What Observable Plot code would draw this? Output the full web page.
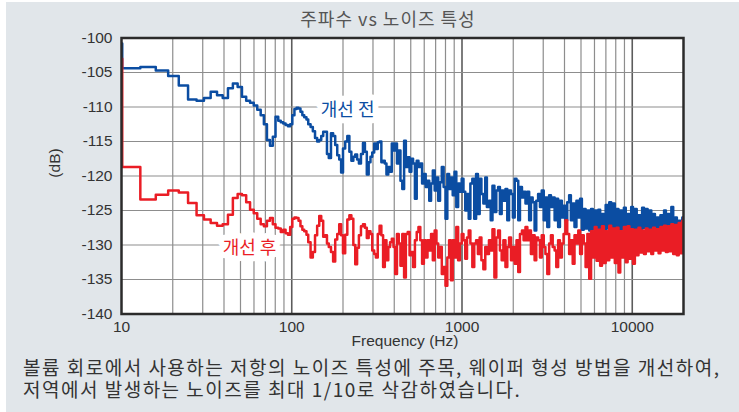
<!DOCTYPE html>
<html>
<head>
<meta charset="utf-8">
<script src="https://cdn.jsdelivr.net/npm/d3@7"></script>
<script src="https://cdn.jsdelivr.net/npm/@observablehq/plot@0.6"></script>
<style>
  html, body { margin: 0; padding: 0; background: #ffffff; }
  body { width: 739px; height: 412px; overflow: hidden; position: relative; font-family: "Liberation Sans", Arial, sans-serif; }
  #panel { position: absolute; left: 6px; top: 2px; width: 733px; height: 410px; background: #e1e6ea; }
  #chart { position: absolute; left: 0; top: 0; }
  .ko { font-family: "Noto Sans CJK KR", "Noto Sans", sans-serif; }
  #title { position: absolute; left: 238px; width: 300px; top: 6px; text-align: center; font-size: 18px; line-height: 24px; letter-spacing: 1px; color: #555; }
  #xlabel { position: absolute; left: 305px; width: 200px; top: 331px; text-align: center; font-size: 15.5px; line-height: 20px; color: #333; }
  #ylabel { position: absolute; left: 25px; top: 153px; width: 60px; text-align: center; font-size: 15.5px; line-height: 20px; color: #333; transform: rotate(-90deg); }
  .cap { position: absolute; left: 23px; font-size: 19px; line-height: 22px; letter-spacing: 1.5px; color: #333; white-space: nowrap; }
  #cap1 { top: 356px; }
  #cap2 { top: 378px; }
</style>
</head>
<body>
<div id="panel"></div>
<div id="title" class="ko">주파수 vs 노이즈 특성</div>
<div id="chart"></div>
<div id="xlabel">Frequency (Hz)</div>
<div id="ylabel">(dB)</div>
<div id="cap1" class="ko cap">볼륨 회로에서 사용하는 저항의 노이즈 특성에 주목, 웨이퍼 형성 방법을 개선하여,</div>
<div id="cap2" class="ko cap">저역에서 발생하는 노이즈를 최대 1/10로 삭감하였습니다.</div>
<script>
// ---- data ----
const freq = [
  10, 10.1, 12.9, 15.9, 18.8, 21.7, 24.6, 27.6, 30.5, 33.4, 36.4, 39.3, 42.2, 45.1, 48.1, 51.0, 54.0, 56.9, 59.8, 62.7,
  65.7, 68.6, 71.5, 74.5, 77.4, 80.3, 83.3, 86.2, 89.1, 92.0, 95.0, 97.9, 100.8, 103.7, 106.7, 109.6, 112.5, 115.4, 118.4,
  122, 125, 129, 133, 137, 141, 145, 149, 153, 157, 161, 165, 170, 175, 180, 185, 190, 195, 200, 206,
  212, 218, 224, 230, 236, 242, 248, 255, 262, 269, 276, 283, 290, 297,
  305, 312, 320, 328, 336, 344, 352, 360, 369, 378,
  387, 396, 405, 415, 425, 435, 446, 457, 468, 480,
  492, 504, 516, 529, 542, 555, 569, 583, 597, 612,
  627, 642, 658, 674, 691, 708, 725, 743, 761, 780,
  800, 820, 840, 861, 882, 904, 926, 949, 972, 996,
  1020, 1045, 1070, 1095, 1120, 1150, 1180, 1210, 1240, 1270,
  1300, 1335, 1370, 1400, 1440, 1475, 1510, 1550, 1590, 1630,
  1670, 1710, 1750, 1800, 1845, 1890, 1940, 1990, 2040, 2090,
  2140, 2190, 2250, 2300, 2360, 2420, 2480, 2540, 2600, 2670,
  2730, 2800, 2870, 2940, 3020, 3090, 3170, 3250, 3330, 3410,
  3500, 3580, 3670, 3760, 3860, 3950, 4050, 4150, 4260, 4360,
  4470, 4580, 4700, 4820, 4940, 5060, 5190, 5320, 5450, 5590,
  5730, 5870, 6020, 6170, 6320, 6480, 6640, 6810, 6980, 7150,
  7330, 7520, 7700, 7900, 8090, 8300, 8500, 8710, 8930, 9160,
  9390, 9620, 9860, 10100, 10360, 10620, 10880, 11150, 11430, 11720,
  12010, 12310, 12620, 12940, 13260, 13590, 13930, 14280, 14640, 15000,
  15380, 15760, 16160, 16560, 16970, 17400, 17830, 18280, 18740, 19200,
  19680, 20000
];

// 개선 전 (before)
const dbBefore = [
  -100.8, -104.4, -104.2, -104.7, -105.5, -106.9, -108.9, -109.1, -108.7, -107.8, -108.3, -108.7, -107.3, -106.6, -107.1, -108.5, -109.1, -109.4, -109.8, -110.4,
  -111.2, -112.5, -114.8, -115.6, -114.3, -111.4, -112.0, -112.2, -112.4, -112.6, -112.8, -112.5, -111.2, -110.3, -110.1, -110.2, -110.7, -111.2, -111.5,
  -111.8, -112.5, -112.9, -113.5, -114.5, -115.0, -114.8, -114.2, -113.6, -113.6, -116.8, -117.4, -113.8, -114.2, -115.5, -117.0, -117.6, -119.5, -116.0, -115.0,
  -114.2, -116.5, -117.8, -117.2, -116.9, -117.6, -118.2, -116.8, -115.2, -116.5, -119.8, -118.0, -117.2, -116.6,
  -115.3, -116.1, -115.1, -115.0, -118.0, -117.8, -118.2, -119.8, -118.7, -119.4,
  -115.3, -116.3, -115.3, -118.2, -116.3, -120.7, -121.9, -114.9, -118.7, -117.3,
  -119.4, -117.5, -118.2, -123.3, -117.8, -118.7, -118.2, -121.1, -119.7, -121.6,
  -120.7, -123.6, -121.1, -119.2, -122.1, -120.2, -123.6, -120.9, -118.7, -121.6,
  -126.2, -119.7, -121.9, -120.2, -122.8, -119.4, -124.5, -121.1, -122.3, -120.4,
  -122.3, -125.0, -122.6, -126.2, -121.1, -120.4, -126.2, -119.7, -125.5, -120.4,
  -122.6, -124.0, -120.2, -124.5, -123.6, -126.4, -121.4, -125.2, -122.1, -121.6,
  -125.5, -122.1, -123.6, -121.9, -126.4, -122.1, -122.6, -126.0, -120.4, -120.7,
  -126.4, -121.6, -123.1, -122.3, -124.0, -122.3, -126.4, -123.1, -123.8, -127.9,
  -123.6, -122.6, -124.5, -122.1, -126.4, -123.1, -127.4, -122.8, -124.5, -123.1,
  -126.4, -123.3, -127.4, -123.6, -126.0, -124.3, -126.4, -123.8, -122.8, -126.4,
  -124.0, -127.4, -123.6, -126.0, -123.3, -127.8, -124.8, -127.6, -125.0, -127.9,
  -124.8, -127.7, -125.0, -127.8, -124.9, -127.9, -125.5, -127.8, -124.2, -127.6,
  -123.8, -127.9, -124.0, -127.8, -124.8, -127.9, -125.0, -127.7, -124.6, -127.8,
  -125.5, -127.6, -124.5, -127.8, -124.8, -127.6, -125.7, -127.9, -124.6, -127.5,
  -124.8, -127.7, -125.0, -127.6, -125.5, -127.8, -126.0, -127.5, -125.7, -127.6,
  -125.0, -127.4, -125.5, -127.5, -124.5, -127.3, -126.0, -127.4, -126.5, -127.2,
  -126.0, -126.3
];

// 개선 후 (after)
const dbAfter = [
  -103.0, -118.7, -123.4, -122.7, -122.1, -122.4, -123.9, -125.7, -126.3, -126.8, -127.2, -127.0, -125.6, -123.2, -122.6, -122.8, -123.8, -124.9, -125.4, -126.2,
  -127.0, -127.3, -126.5, -126.1, -127.0, -127.5, -127.6, -128.1, -127.8, -128.3, -128.5, -127.4, -126.2, -126.0, -126.1, -126.5, -127.3, -127.8, -128.0,
  -128.5, -129.6, -131.8, -131.0, -128.6, -127.2, -125.8, -126.5, -128.8, -128.6, -129.8, -130.3, -131.0, -132.4, -129.2, -128.4, -127.0, -128.6, -131.2, -128.5,
  -126.3, -125.7, -126.2, -130.0, -132.8, -130.4, -128.6, -127.3, -127.0, -127.5, -129.0, -128.0, -128.4, -130.8,
  -131.3, -131.8, -128.4, -127.2, -128.6, -133.2, -129.3, -132.2, -130.3, -129.6,
  -129.1, -130.3, -134.2, -128.4, -129.8, -133.0, -128.4, -134.7, -128.4, -128.1,
  -131.5, -131.0, -133.2, -129.3, -128.1, -127.4, -129.3, -132.7, -129.3, -131.8,
  -129.3, -130.8, -128.4, -132.2, -127.9, -129.8, -131.8, -130.3, -134.2, -133.2,
  -135.9, -131.8, -129.3, -135.1, -129.3, -131.8, -127.4, -132.2, -129.8, -128.4,
  -129.3, -132.0, -128.9, -127.9, -129.8, -133.2, -129.8, -129.3, -131.3, -128.9,
  -132.2, -133.5, -130.3, -131.3, -129.3, -130.8, -127.7, -134.7, -128.9, -127.9,
  -130.8, -132.2, -129.3, -133.2, -130.3, -128.9, -132.2, -130.3, -132.7, -129.3,
  -133.9, -128.4, -127.9, -129.3, -127.4, -129.3, -127.9, -131.3, -128.6, -132.2,
  -128.9, -129.3, -131.8, -128.6, -130.3, -131.3, -134.2, -129.8, -128.6, -130.3,
  -130.8, -133.2, -129.3, -131.8, -129.8, -128.4, -126.4, -128.4, -131.3, -129.3,
  -132.7, -128.6, -129.8, -127.9, -131.3, -128.6, -129.8, -133.2, -128.4, -134.9,
  -128.0, -131.8, -127.4, -132.3, -127.8, -133.0, -127.3, -132.6, -128.0, -132.2,
  -127.2, -131.8, -127.6, -132.6, -127.5, -134.0, -128.0, -131.8, -127.4, -132.5,
  -127.3, -132.0, -127.7, -132.7, -127.8, -131.5, -127.5, -131.1, -127.9, -131.3,
  -127.6, -130.9, -127.8, -131.3, -127.5, -130.8, -127.7, -131.2, -127.4, -130.8,
  -127.2, -131.0, -127.3, -130.9, -127.0, -131.3, -127.1, -131.5, -126.8, -131.2,
  -126.5, -126.0
];

const xTicks = [10, 100, 1000, 10000];
const xMinorGrid = [20, 30, 40, 50, 60, 70, 80, 90, 200, 300, 400, 500, 600, 700, 800, 900, 2000, 3000, 4000, 5000, 6000, 7000, 8000, 9000];
const xMajorGrid = [100, 1000, 10000];
const yTicks = [-140, -135, -130, -125, -120, -115, -110, -105, -100];

const seriesNames = ["개선 전", "개선 후"];
const labelFreq = [213, 56.5];
const labelDb = [-110.5, -130.5];
const seriesColors = ["#0b4da2", "#ea1d25"];

// ---- build ----
const rows = freq.map((f, i) => ({ f, before: dbBefore[i], after: dbAfter[i] }));
const labels = seriesNames.map((name, i) => ({ name, f: labelFreq[i], db: labelDb[i], color: seriesColors[i] }));

const chart = Plot.plot({
  width: 739,
  height: 360,
  marginLeft: 121,
  marginRight: 56,
  marginTop: 37.5,
  marginBottom: 46.5,
  style: { background: "transparent", fontFamily: "'Liberation Sans', Arial, sans-serif", fontSize: "15.5px", color: "#333" },
  x: { type: "log", domain: [10, 20000], ticks: xTicks, tickFormat: d => String(d), label: null, tickSize: 0, tickPadding: 7 },
  y: { domain: [-140, -100], ticks: yTicks, tickFormat: d => String(d), label: null, tickSize: 0, tickPadding: 9 },
  marks: [
    Plot.frame({ fill: "white" }),
    Plot.ruleX(xMinorGrid, { stroke: "#8d8d8d", strokeWidth: 1.2 }),
    Plot.ruleX(xMajorGrid, { stroke: "#5c5c5c", strokeWidth: 1.6 }),
    Plot.ruleY(yTicks, { stroke: "#8d8d8d", strokeWidth: 1.2 }),
    Plot.line(rows, { x: "f", y: "before", curve: "step-after", stroke: seriesColors[0], strokeWidth: 2.5, clip: true }),
    Plot.line(rows, { x: "f", y: "after", curve: "step-after", stroke: seriesColors[1], strokeWidth: 2.5, clip: true }),
    Plot.text(labels, {
      x: "f", y: "db", text: "name", fill: "color",
      stroke: "white", strokeWidth: 12, strokeLinejoin: "round", paintOrder: "stroke",
      fontSize: 18, fontFamily: "'Noto Sans CJK KR', sans-serif", textAnchor: "middle"
    }),
    Plot.frame({ stroke: "#2b2b2b", strokeWidth: 2.5 })
  ]
});
document.getElementById("chart").appendChild(chart);
</script>
</body>
</html>
